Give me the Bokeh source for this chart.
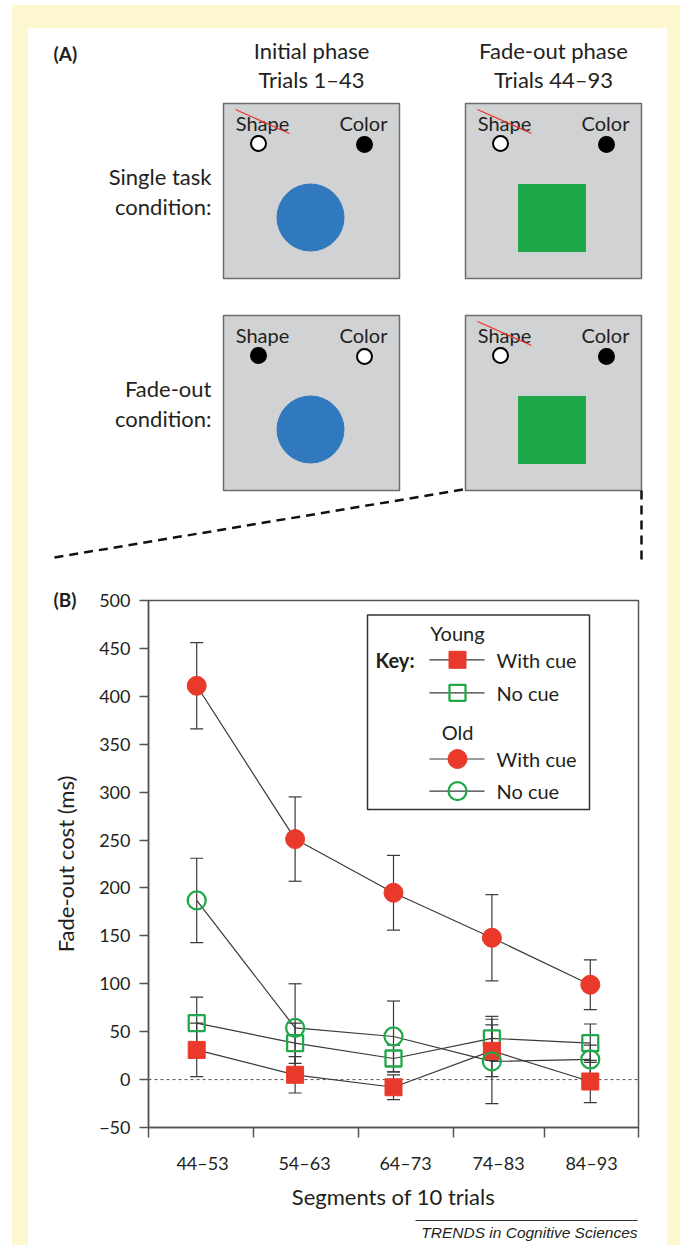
from bokeh.plotting import figure
from bokeh.models import Range1d, FixedTicker, Whisker, TeeHead, ColumnDataSource, Spacer
from bokeh.layouts import column, row
from bokeh.embed import file_html
from bokeh.resources import INLINE
from bokeh.core.properties import value

FONT = "Lato"
TXT = "#231F20"
RED = "#E8392B"
GREEN = "#22A84A"
BLUE = "#3179BE"
SQGREEN = "#1FA84A"
YELLOW = "#FCF7CF"
LINE = "#3A3A3A"
AXIS = "#555555"

# ---------------- data ----------------
segments = ["44\u201353", "54\u201363", "64\u201373", "74\u201383", "84\u201393"]
young_cue = [31, 5, -8, 30, -2]
young_cue_err = [28, 19, 13, 27, 22]
young_nocue = [59, 38, 22, 43, 38]
young_nocue_err = [27, 21, 14, 23, 20]
old_cue = [411, 251, 195, 148, 99]
old_cue_err = [45, 44, 39, 45, 26]
old_nocue = [187, 54, 45, 19, 21]
old_nocue_err = [44, 46, 37, 44, 15]
y_ticks = [-50, 0, 50, 100, 150, 200, 250, 300, 350, 400, 450, 500]

phases = ["Initial phase", "Fade-out phase"]
trial_ranges = ["Trials 1\u201343", "Trials 44\u201393"]
conditions = [["Single task", "condition:"], ["Fade-out", "condition:"]]
shape_struck = [[True, True], [False, True]]
shape_dot_black = [[False, False], [True, False]]
color_dot_black = [[True, True], [False, True]]
stimulus = [["circle", "square"], ["circle", "square"]]

# ---------------- panel A (page pixel coordinates) ----------------
X0, X1 = 28, 667
YA0, YA1 = 28, 585
pa = figure(width=X1 - X0, height=YA1 - YA0, x_range=Range1d(X0, X1),
            y_range=Range1d(YA1, YA0), x_axis_type=None, y_axis_type=None,
            toolbar_location=None, output_backend="svg",
            min_border_left=0, min_border_right=0, min_border_top=0, min_border_bottom=0,
            outline_line_color=None, background_fill_color="white",
            border_fill_color="white")

BOX_L = [223, 465]
BOX_T = [103, 315]
BOX_W, BOX_H = 176, 175

pa.text(x=[53], y=[53], text=["(A)"], text_font=value(FONT), text_font_style="bold",
        text_font_size="19px", text_align="left", text_baseline="middle", text_color=TXT)
for j in range(2):
    cx = BOX_L[j] + BOX_W / 2
    pa.text(x=[cx, cx], y=[50, 79], text=[phases[j], trial_ranges[j]],
            text_font=value(FONT), text_font_size="22px", text_align="center",
            text_baseline="middle", text_color=TXT)

for i in range(2):
    pa.text(x=[211, 211], y=[BOX_T[i] + 73, BOX_T[i] + 103], text=conditions[i],
            text_font=value(FONT), text_font_size="22px", text_align="right",
            text_baseline="middle", text_color=TXT)
    for j in range(2):
        l, t = BOX_L[j], BOX_T[i]
        pa.quad(left=[l], right=[l + BOX_W], top=[t], bottom=[t + BOX_H],
                fill_color="#D1D2D4", line_color="#6B6C6E", line_width=1.5)
        pa.text(x=[l + 39, l + 140], y=[t + 19, t + 19], text=["Shape", "Color"],
                text_font=value(FONT), text_font_size="20px", text_align="center",
                text_baseline="middle", text_color=TXT)
        if shape_struck[i][j]:
            pa.segment(x0=[l + 12], y0=[t + 6], x1=[l + 66], y1=[t + 30],
                       line_color=RED, line_width=1.3)
        pa.scatter(x=[l + 35], y=[t + 40], marker="circle", size=15,
                   fill_color="black" if shape_dot_black[i][j] else "white",
                   line_color="black", line_width=2)
        pa.scatter(x=[l + 141], y=[t + 41], marker="circle", size=15,
                   fill_color="black" if color_dot_black[i][j] else "white",
                   line_color="black", line_width=2)
        if stimulus[i][j] == "circle":
            pa.circle(x=[l + 87], y=[t + 114], radius=33.5, fill_color=BLUE,
                      line_color=BLUE)
        else:
            pa.quad(left=[l + 53], right=[l + 120], top=[t + 81], bottom=[t + 148],
                    fill_color=SQGREEN, line_color=SQGREEN)

pa.line(x=[54, 463], y=[557, 489], line_color="#111111", line_width=2.5, line_dash="9 6")
pa.line(x=[641, 641], y=[490, 562], line_color="#111111", line_width=2.5, line_dash="9 6")

# ---------------- panel B (chart) ----------------
YB0, YB1 = 585, 1212
FR_L, FR_R, FR_T = 148, 638, 600
BOT = 70
XR = (-0.49, 4.49)
pb = figure(width=X1 - X0, height=YB1 - YB0, x_range=Range1d(*XR),
            y_range=Range1d(-50, 500), toolbar_location=None, output_backend="svg",
            min_border_left=FR_L - X0, min_border_right=X1 - FR_R,
            min_border_top=FR_T - YB0, min_border_bottom=BOT,
            background_fill_color="white", border_fill_color="white",
            title="(B)")
FR_H = (YB1 - YB0) - (FR_T - YB0) - BOT
pb.title.align = "left"
pb.title.offset = 53 - FR_L
pb.title.standoff = -20
pb.title.text_font = FONT
pb.title.text_font_size = "19px"
pb.title.text_font_style = "bold"
pb.title.text_color = TXT
pb.grid.visible = False
pb.outline_line_color = AXIS
pb.outline_line_width = 1.5


def px2x(px):
    return XR[0] + (px - FR_L) * (XR[1] - XR[0]) / (FR_R - FR_L)


def py2y(py):
    return 500 - (py - FR_T) * 550 / FR_H


xpos = list(range(len(segments)))
label_pos = [px2x(p) for p in (202, 304, 405, 498, 591)]
bound_pos = [px2x(p) for p in (148, 253, 358, 453, 544, 638)]

xa = pb.xaxis[0]
xa.ticker = FixedTicker(ticks=label_pos, minor_ticks=bound_pos)
xa.major_label_overrides = {p: s for p, s in zip(label_pos, segments)}
xa.major_tick_line_color = None
xa.major_tick_out = 0
xa.major_tick_in = 0
xa.minor_tick_out = 10
xa.minor_tick_in = 0
xa.minor_tick_line_color = AXIS
xa.minor_tick_line_width = 1.5
xa.axis_line_color = AXIS
xa.axis_line_width = 1.5
xa.major_label_text_font = FONT
xa.major_label_text_font_size = "18px"
xa.major_label_text_color = TXT
xa.major_label_standoff = 14
xa.axis_label = "Segments of 10 trials"
xa.axis_label_text_font = FONT
xa.axis_label_text_font_size = "22px"
xa.axis_label_text_font_style = "normal"
xa.axis_label_text_color = TXT
xa.axis_label_standoff = 6

ya = pb.yaxis[0]
ya.ticker = FixedTicker(ticks=y_ticks, minor_ticks=[])
ya.major_label_overrides = {t: (str(t).replace("-", "\u2212")) for t in y_ticks}
ya.major_tick_out = 9
ya.major_tick_in = 0
ya.major_tick_line_color = AXIS
ya.major_tick_line_width = 1.5
ya.axis_line_color = AXIS
ya.axis_line_width = 1.5
ya.major_label_text_font = FONT
ya.major_label_text_font_size = "18px"
ya.major_label_text_color = TXT
ya.major_label_standoff = 9
ya.axis_label = "Fade-out cost (ms)"
ya.axis_label_text_font = FONT
ya.axis_label_text_font_size = "22px"
ya.axis_label_text_font_style = "normal"
ya.axis_label_text_color = TXT
ya.axis_label_standoff = 17

pb.line(x=list(XR), y=[0, 0], line_color=AXIS, line_width=1, line_dash="3 3")

series = [
    (young_nocue, young_nocue_err, "square", 16, False),
    (young_cue, young_cue_err, "square", 17, True),
    (old_cue, old_cue_err, "circle", 19, True),
    (old_nocue, old_nocue_err, "circle", 18, False),
]
sources = []
for y, err, mk, sz, filled in series:
    src = ColumnDataSource(dict(x=xpos, y=y, up=[a + b for a, b in zip(y, err)],
                                lo=[a - b for a, b in zip(y, err)]))
    sources.append(src)
    pb.line("x", "y", source=src, line_color=LINE, line_width=1.2)
    pb.add_layout(Whisker(base="x", upper="up", lower="lo", source=src,
                          line_color=LINE, line_width=1.2,
                          upper_head=TeeHead(size=13, line_color=LINE, line_width=1.2),
                          lower_head=TeeHead(size=13, line_color=LINE, line_width=1.2)))


def marker_style(mk, sz, filled):
    col = RED if filled else GREEN
    return dict(marker=mk, size=sz, fill_color=col if filled else None,
                line_color=col, line_width=1 if filled else 2.3)


for src, (y, err, mk, sz, filled) in zip(sources, series):
    pb.scatter("x", "y", source=src, **marker_style(mk, sz, filled))

# key box
pb.quad(left=[px2x(367)], right=[px2x(589)], top=[py2y(615)], bottom=[py2y(815)],
        fill_color="white", line_color="#333333", line_width=1.5)
key_groups = ["Young", "Old"]
key_group_y = [633, 735]
key_labels = ["With cue", "No cue", "With cue", "No cue"]
key_row_y = [661, 695, 763, 796]
key_series = [1, 0, 2, 3]
pb.text(x=[px2x(457)] * 2, y=[py2y(v) for v in key_group_y], text=key_groups,
        text_font=value(FONT), text_font_size="20px", text_align="center",
        text_baseline="middle", text_color=TXT)
pb.text(x=[px2x(375)], y=[py2y(661)], text=["Key:"], text_font=value(FONT),
        text_font_style="bold", text_font_size="20px", text_align="left",
        text_baseline="middle", text_color=TXT)
for ry, lab, si in zip(key_row_y, key_labels, key_series):
    yy = py2y(ry)
    pb.line(x=[px2x(429), px2x(484)], y=[yy, yy], line_color=LINE, line_width=1.2)
    _, _, mk, sz, filled = series[si]
    pb.scatter(x=[px2x(457)], y=[yy], **marker_style(mk, sz, filled))
    pb.text(x=[px2x(496)], y=[yy], text=[lab], text_font=value(FONT),
            text_font_size="20px", text_align="left", text_baseline="middle",
            text_color=TXT)

# ---------------- footer ----------------
YC0, YC1 = 1212, 1245
pc = figure(width=X1 - X0, height=YC1 - YC0, x_range=Range1d(X0, X1),
            y_range=Range1d(YC1, YC0), x_axis_type=None, y_axis_type=None,
            toolbar_location=None, output_backend="svg",
            min_border_left=0, min_border_right=0, min_border_top=0, min_border_bottom=0,
            outline_line_color=None, background_fill_color="white",
            border_fill_color="white")
pc.line(x=[415, 637], y=[1220, 1220], line_color="#333333", line_width=1)
pc.text(x=[637], y=[1232], text=["TRENDS in Cognitive Sciences"],
        text_font=value("Liberation Sans"), text_font_style="italic",
        text_font_size="15.5px", text_align="right", text_baseline="middle",
        text_color=TXT)

# ---------------- page: yellow frame + stacked roots ----------------
YS = {"background-color": YELLOW}


def framed(fig, h):
    return row(Spacer(width=12, height=h), Spacer(width=16, height=h, styles=YS), fig,
               Spacer(width=680 - 12 - 16 - (X1 - X0), height=h, styles=YS))


top = column(Spacer(width=680, height=5),
             row(Spacer(width=12, height=23), Spacer(width=668, height=23, styles=YS)))
roots = [top, framed(pa, YA1 - YA0), framed(pb, YB1 - YB0), framed(pc, YC1 - YC0)]

open("out.html", "w").write(file_html(roots, INLINE))
